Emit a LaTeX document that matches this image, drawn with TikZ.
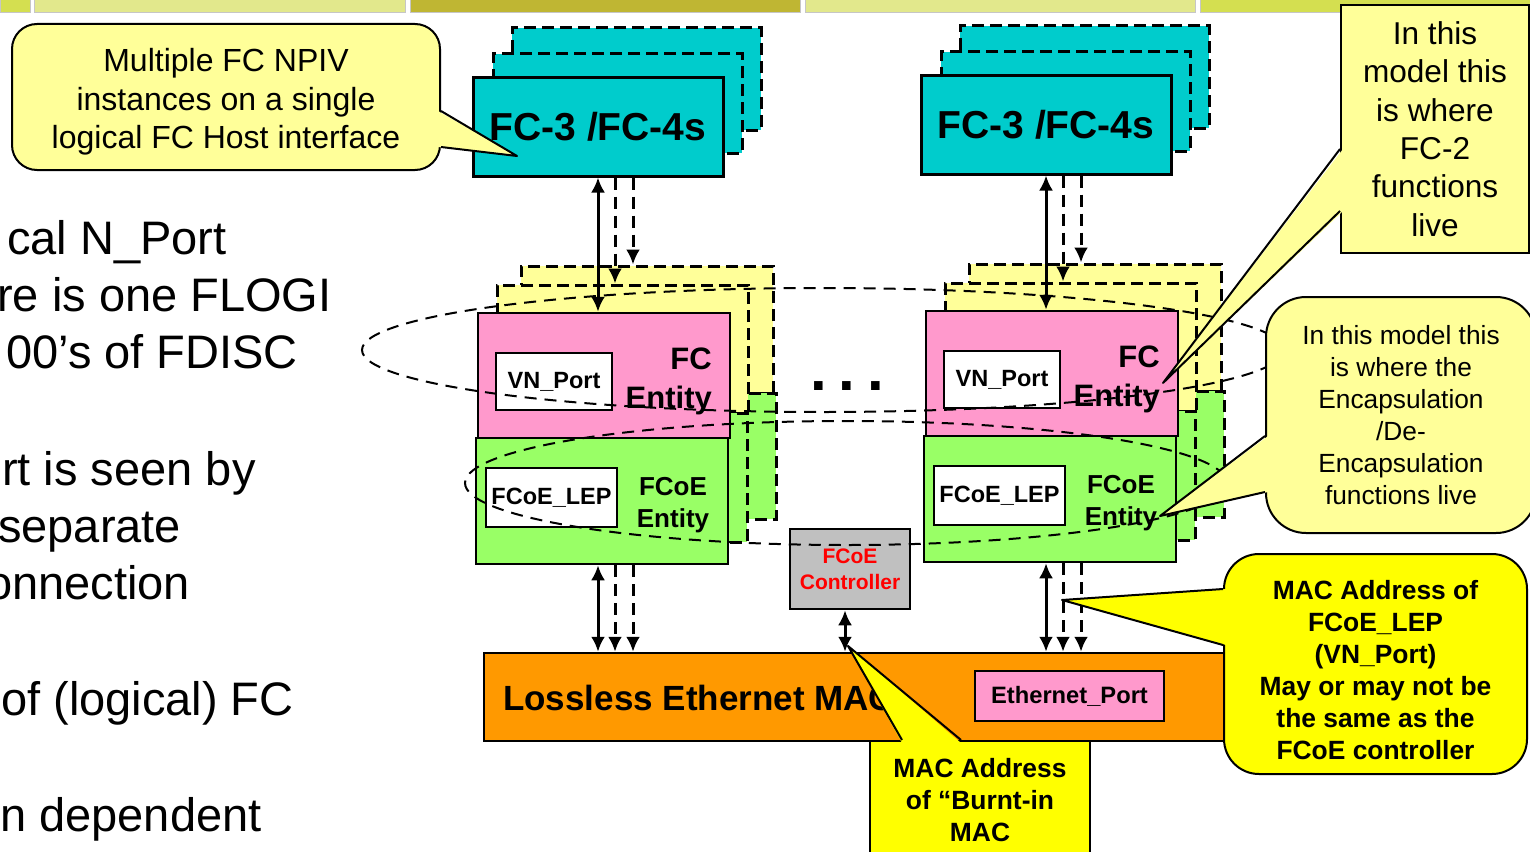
\documentclass[tikz,border=0pt]{standalone}
\usepackage{fontspec}
\setmainfont{Liberation Sans}
\usetikzlibrary{arrows.meta,fit,calc}

\definecolor{fcteal}{HTML}{00CCCC}
\definecolor{notepale}{HTML}{FFFF99}
\definecolor{notebright}{HTML}{FFFF00}
\definecolor{fcpink}{HTML}{FF99CC}
\definecolor{fcoegreen}{HTML}{99FF66}
\definecolor{macorange}{HTML}{FF9900}
\definecolor{ctrlgrey}{HTML}{C0C0C0}
\definecolor{barlime}{HTML}{D4DF50}
\definecolor{barpale}{HTML}{E2E88C}
\definecolor{barolive}{HTML}{BFB633}

\tikzset{
  fcbox/.style={draw, fill=fcteal, line width=3pt, inner sep=0pt, minimum width=250pt, minimum height=99pt, font=\bfseries\fontsize{39}{39}\selectfont},
  backbox/.style={draw, line width=3pt, dash pattern=on 12pt off 6pt, inner sep=0pt},
  entity/.style={draw, line width=2.5pt, inner sep=0pt},
  portbox/.style={draw, fill=white, line width=2.5pt, inner sep=0pt, font=\bfseries\fontsize{23.5}{23.5}\selectfont},
  note/.style={draw, line width=2pt, inner sep=0pt, align=center},
  pointer/.style={line width=2pt, line join=round},
  link/.style={line width=3pt},
  dashlink/.style={line width=3pt, dash pattern=on 12pt off 7pt},
  group/.style={line width=2pt, dash pattern=on 12pt off 8pt},
}

\begin{document}
\begin{tikzpicture}[x=1pt, y=-1pt, >={Latex[length=15pt,width=14pt]}]
		\useasboundingbox (0,0) rectangle (1530,851);

		% slide title bar
		\foreach \a/\b/\c in {0/30/barlime, 34/405/barpale, 410/800/barolive, 805/1195/barpale, 1200/1530/barlime}{
			\draw[gray!45, fill=\c] (\a,-2) rectangle (\b,12);
		}

		% bullet text, cut at the left
		\foreach \t/\x/\y [count=\i] in {{cal N\_Port}/7/254, {re is one FLOGI}/-3/311, {00’s of FDISC}/6/368,
			{rt is seen by}/2/485, {separate}/-2/542, {onnection}/-14/599, {of (logical) FC}/1/715, {n dependent}/0/831}{
			\node[anchor=base west, inner sep=0pt, font=\fontsize{47}{47}\selectfont] (body\i) at (\x,\y) {\t};
		}

		% Ethernet MAC
		\node[draw, fill=macorange, line width=2.5pt, inner sep=0pt, fit={(484,653) (1232,741)}] (mac) {};
		\node[anchor=west, inner sep=0pt, font=\bfseries\fontsize{35}{35}\selectfont] (maclbl) at (503,698) {Lossless Ethernet MAC};
		\node[draw, fill=fcpink, line width=2.5pt, inner sep=0pt, minimum width=189pt, minimum height=50pt, font=\bfseries\fontsize{23.7}{23.7}\selectfont] (ethport) at (1069.5,696) {Ethernet\_Port};

		% the two stacks
		\foreach \s/\dx/\dy in {L/0/0, R/448/-2}{
			% FC-3 /FC-4s instances
			\node[backbox, fill=fcteal, fit={({512+\dx},{28+\dy}) ({761+\dx},{130+\dy})}] (fcc\s) {};
			\node[backbox, fill=fcteal, fit={({493+\dx},{54+\dy}) ({742+\dx},{153+\dy})}] (fcb\s) {};
			\node[fcbox] (fc\s) at ({598+\dx},{126.5+\dy}) {FC-3 /FC-4s};

			% entity instances behind
			\node[backbox, fill=notepale, fit={({521+\dx},{266+\dy}) ({773+\dx},{393+\dy})}] (fcec\s) {};
			\node[backbox, fill=fcoegreen, fit={({521+\dx},{393+\dy}) ({776+\dx},{519+\dy})}] (fcoec\s) {};
			\node[backbox, fill=notepale, fit={({497+\dx},{285+\dy}) ({748+\dx},{413+\dy})}] (fceb\s) {};
			\node[backbox, fill=fcoegreen, fit={({496+\dx},{413+\dy}) ({747+\dx},{542+\dy})}] (fcoeb\s) {};

			% front entities
			\node[entity, fill=fcpink, fit={({478+\dx},{313+\dy}) ({730+\dx},{438+\dy})}] (fce\s) {};
			\node[entity, fill=fcoegreen, fit={({476+\dx},{438+\dy}) ({728+\dx},{564+\dy})}] (fcoe\s) {};
			\node[portbox, minimum width=116pt, minimum height=57pt] (vn\s) at ({554+\dx},{381.5+\dy}) {VN\_Port};
			\node[portbox, minimum width=131pt, minimum height=59pt] (lep\s) at ({551.5+\dx},{497.5+\dy}) {FCoE\_LEP};
			\node[anchor=east, align=right, inner sep=0pt, font=\bfseries\fontsize{31}{39}\selectfont] (fcelbl\s) at ({712+\dx},{381+\dy}) {FC\\Entity};
			\node[align=center, inner sep=0pt, font=\bfseries\fontsize{26}{32}\selectfont] (fcoelbl\s) at ({673+\dx},{505+\dy}) {FCoE\\Entity};

			% links
			\coordinate (s\s) at ({598+\dx},0);
			\coordinate (d\s) at ({615+\dx},0);
			\coordinate (e\s) at ({633+\dx},0);
			\draw[link, <->] (fc\s.south -| s\s) -- (fce\s.north -| s\s);
			\draw[dashlink, ->] (fc\s.south -| d\s) -- (fceb\s.north -| d\s);
			\draw[dashlink, ->] (fc\s.south -| e\s) -- (fcec\s.north -| e\s);
			\draw[link, <->] (fcoe\s.south -| s\s) -- (mac.north -| s\s);
			\draw[dashlink, ->] (fcoe\s.south -| d\s) -- (mac.north -| d\s);
			\draw[dashlink, ->] (fcoe\s.south -| e\s) -- (mac.north -| e\s);
		}

		\node[anchor=base, inner sep=0pt, font=\bfseries\fontsize{60}{60}\selectfont] (dots) at (847,390) {.\kern12pt.\kern12pt.};

		% FCoE controller
		\node[draw, fill=ctrlgrey, line width=2.5pt, inner sep=0pt, minimum width=120pt, minimum height=80pt, text=red, align=center, font=\bfseries\fontsize{21}{26}\selectfont] (ctrl) at (850,569) {FCoE\\Controller};
		\coordinate (ca) at ([xshift=-5pt]ctrl.south);
		\draw[link, <->] (ca) -- (ca |- mac.north);

		% groupings
		\draw[group] (823,350) ellipse [x radius=461, y radius=62];
		\draw[group] (846,483) ellipse [x radius=381, y radius=62];

		% callouts
		\node[note, fill=notepale, rounded corners=25pt, minimum width=428pt, minimum height=146pt, font=\fontsize{32}{38.5}\selectfont] (npiv) at (226,97) {\rule{0pt}{33pt}Multiple FC NPIV\\instances on a single\\logical FC Host interface};
		\coordinate (npivtip) at (517,156);
		\fill[notepale] ($(npiv.north east)+(-3,88)$) -- (npivtip) -- ($(npiv.north east)+(-3,124)$) -- cycle;
		\draw[pointer] ($(npiv.north east)+(0,88)$) -- (npivtip) -- ($(npiv.north east)+(0,124)$);

		\node[note, fill=notepale, minimum width=188pt, minimum height=248pt, font=\fontsize{31.6}{38.4}\selectfont] (fctwo) at (1435,129) {In this\\model this\\is where\\FC-2\\functions\\live};
		\coordinate (fctwotip) at (1163,383);
		\fill[notepale] ($(fctwo.north west)+(3,145)$) -- (fctwotip) -- ($(fctwo.north west)+(3,207)$) -- cycle;
		\draw[pointer] ($(fctwo.north west)+(0,145)$) -- (fctwotip) -- ($(fctwo.north west)+(0,207)$);

		\node[note, fill=notepale, rounded corners=40pt, minimum width=270pt, minimum height=236pt, font=\fontsize{26.3}{32}\selectfont] (encap) at (1401,415) {In this model this\\is where the\\Encapsulation\\/De-\\Encapsulation\\functions live};
		\coordinate (encaptip) at (1160,516);
		\fill[notepale] ($(encap.north west)+(3,140)$) -- (encaptip) -- ($(encap.north west)+(3,196)$) -- cycle;
		\draw[pointer] ($(encap.north west)+(0,140)$) -- (encaptip) -- ($(encap.north west)+(0,196)$);

		\node[note, fill=notebright, rounded corners=35pt, minimum width=303pt, minimum height=220pt, font=\bfseries\fontsize{26.4}{32}\selectfont] (macvn) at (1375.5,664) {\rule{0pt}{31pt}MAC Address of\\FCoE\_LEP\\(VN\_Port)\\May or may not be\\the same as the\\FCoE controller};
		\coordinate (macvntip) at (1062,600);
		\fill[notebright] ($(macvn.north west)+(3,36)$) -- (macvntip) -- ($(macvn.north west)+(3,92)$) -- cycle;
		\draw[pointer] ($(macvn.north west)+(0,36)$) -- (macvntip) -- ($(macvn.north west)+(0,92)$);

		\node[note, fill=notebright, minimum width=220pt, minimum height=118pt, font=\bfseries\fontsize{26.4}{32}\selectfont] (burnt) at (980,800) {MAC Address\\of “Burnt-in\\MAC};
		\coordinate (burnttip) at (848,646);
		\fill[notebright] ($(burnt.north west)+(33,3)$) -- (burnttip) -- ($(burnt.north west)+(92,3)$) -- cycle;
		\draw[pointer] ($(burnt.north west)+(33,0)$) -- (burnttip) -- ($(burnt.north west)+(92,0)$);
	\end{tikzpicture}
\end{document}
